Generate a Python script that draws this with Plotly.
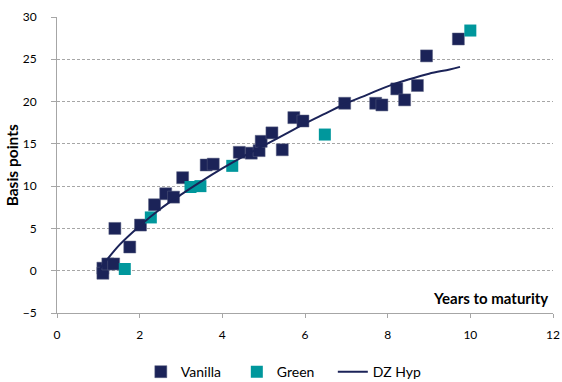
import plotly.graph_objects as go

vanilla_x = [1.11, 1.11, 1.23, 1.37, 1.40, 1.76, 2.02, 2.36, 2.63, 2.82, 3.04, 3.61, 3.78,
             4.41, 4.70, 4.89, 4.94, 5.20, 5.45, 5.73, 5.95, 6.96, 7.71, 7.86, 8.22, 8.41,
             8.72, 8.94, 9.71]
vanilla_y = [0.3, -0.3, 0.8, 0.8, 5.0, 2.8, 5.4, 7.8, 9.1, 8.7, 11.0, 12.5, 12.6,
             14.0, 13.9, 14.2, 15.3, 16.3, 14.3, 18.1, 17.7, 19.8, 19.8, 19.6, 21.5, 20.2,
             21.9, 25.4, 27.4]

green_x = [1.64, 2.27, 3.23, 3.47, 4.24, 6.48, 10.0]
green_y = [0.2, 6.3, 9.9, 10.0, 12.4, 16.1, 28.4]

dz_x = [1.05, 1.5, 2.0, 2.5, 3.0, 3.5, 4.0, 4.5, 5.0, 5.5, 6.0, 6.5, 7.0, 7.5, 8.0,
        8.5, 9.0, 9.5, 9.75]
dz_y = [0.3, 3.0, 5.3, 7.3, 9.0, 10.6, 12.1, 13.5, 14.8, 16.1, 17.4, 18.6, 19.8, 20.8,
        21.8, 22.6, 23.3, 23.8, 24.1]

x_ticks = [0, 2, 4, 6, 8, 10, 12]
y_ticks = [-5, 0, 5, 10, 15, 20, 25, 30]

navy = "#1B2358"
teal = "#00979C"
grey = "#A6A6A6"
font = "Lato, Carlito, 'Liberation Sans', sans-serif"

fig = go.Figure()
fig.add_trace(go.Scatter(x=vanilla_x, y=vanilla_y, mode="markers", name="Vanilla",
                         marker=dict(symbol="square", size=12, color=navy,
                                     line=dict(width=0.5, color="#5a6080"))))
fig.add_trace(go.Scatter(x=green_x, y=green_y, mode="markers", name="Green",
                         marker=dict(symbol="square", size=12, color=teal,
                                     line=dict(width=0))))
fig.add_trace(go.Scatter(x=dz_x, y=dz_y, mode="lines", name="DZ Hyp",
                         line=dict(color=navy, width=2, shape="spline")))

fig.update_layout(
    width=562, height=382,
    margin=dict(l=57, r=9, t=17, b=69),
    paper_bgcolor="white", plot_bgcolor="white",
    font=dict(family=font, size=12, color="#000000"),
    showlegend=True,
    legend=dict(orientation="h", x=0.169, xanchor="left",
                yref="container", y=0.026, yanchor="middle",
                font=dict(size=14), itemwidth=30, tracegroupgap=0,
                entrywidth=51, entrywidthmode="pixels"),
    xaxis=dict(range=[0, 12], tickvals=x_ticks, showgrid=False, zeroline=False,
               showline=True, linecolor=grey, linewidth=1, automargin=False,
               ticks="outside", ticklen=4, tickcolor=grey, ticklabelstandoff=7,
               tickfont=dict(size=12)),
    yaxis=dict(range=[-5, 30], tickvals=y_ticks, showgrid=True, gridcolor=grey,
               griddash="3px,2px", gridwidth=1, zeroline=False,
               showline=True, linecolor=grey, linewidth=1, automargin=False,
               ticks="outside", ticklen=5, tickcolor=grey, ticklabelstandoff=12,
               tickfont=dict(size=12)),
    annotations=[
        dict(text="<b>Years to maturity</b>", xref="paper", yref="paper",
             x=0.993, y=0.05, xanchor="right", yanchor="middle",
             showarrow=False, font=dict(size=15)),
        dict(text="<b>Basis points</b>", xref="paper", yref="paper",
             x=-0.09, y=0.5, xanchor="center", yanchor="middle", textangle=-90,
             showarrow=False, font=dict(size=15.5)),
    ],
)

fig.write_html("out.html", config={"displayModeBar": False},
               post_script="document.body.style.margin='0px';document.body.style.padding='0px';")
